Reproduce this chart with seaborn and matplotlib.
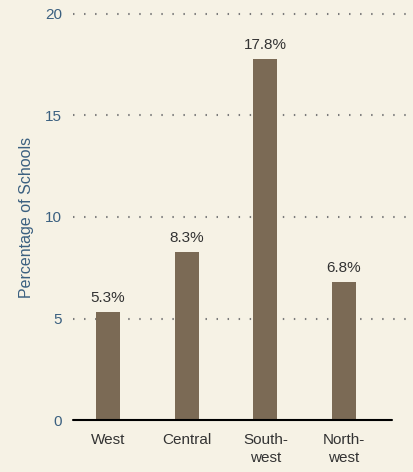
import matplotlib
matplotlib.use("Agg")
import matplotlib.pyplot as plt
import seaborn as sns

regions = ["West", "Central", "South-\nwest", "North-\nwest"]
percent = [5.3, 8.3, 17.8, 6.8]
value_labels = ["5.3%", "8.3%", "17.8%", "6.8%"]
yticks = [0, 5, 10, 15, 20]

bg = "#f6f2e5"
bar_color = "#7b6a55"
blue = "#3b6080"

sns.set_style("white")
plt.rcParams["font.family"] = ["Liberation Sans", "DejaVu Sans"]

fig = plt.figure(figsize=(4.14, 4.72), dpi=100, facecolor=bg)
ax = fig.add_axes([73 / 414, 52 / 472, 1 - 73 / 414, 406 / 472])
ax.set_facecolor(bg)

sns.barplot(x=regions, y=percent, color=bar_color, saturation=1, width=0.305,
            linewidth=0, edgecolor="none", ax=ax, zorder=3)

ax.set_xlim(-0.445, 3.89)
ax.set_ylim(0, 20)

# dotted grid lines
for y in yticks[1:]:
    ax.axhline(y, color="#7a7a7a", lw=1.5, linestyle=(0, (0.7, 4.6)), zorder=1, clip_on=False)
ax.axhline(0, xmin=0, xmax=(392 - 73) / (414 - 73), color="black", lw=1.5, zorder=4, clip_on=False)

for i, (v, lab) in enumerate(zip(percent, value_labels)):
    ax.annotate(lab, (i, v), xytext=(0, 5), textcoords="offset points",
                ha="center", va="bottom", fontsize=11, color="#333333")

ax.set_yticks(yticks)
ax.set_yticklabels([str(t) for t in yticks], fontsize=11, color=blue)
ax.tick_params(axis="y", length=0, pad=8)
ax.tick_params(axis="x", length=0, pad=9)
for t in ax.get_xticklabels():
    t.set_fontsize(11)
    t.set_color("#333333")
    t.set_linespacing(1.45)
    t.set_va("top")

ax.set_xlabel("")
ax.set_ylabel("Percentage of Schools", fontsize=11.5, color=blue, labelpad=8)
sns.despine(ax=ax, left=True, bottom=True, right=True, top=True)

fig.savefig("out.png", dpi=100, facecolor=bg)
